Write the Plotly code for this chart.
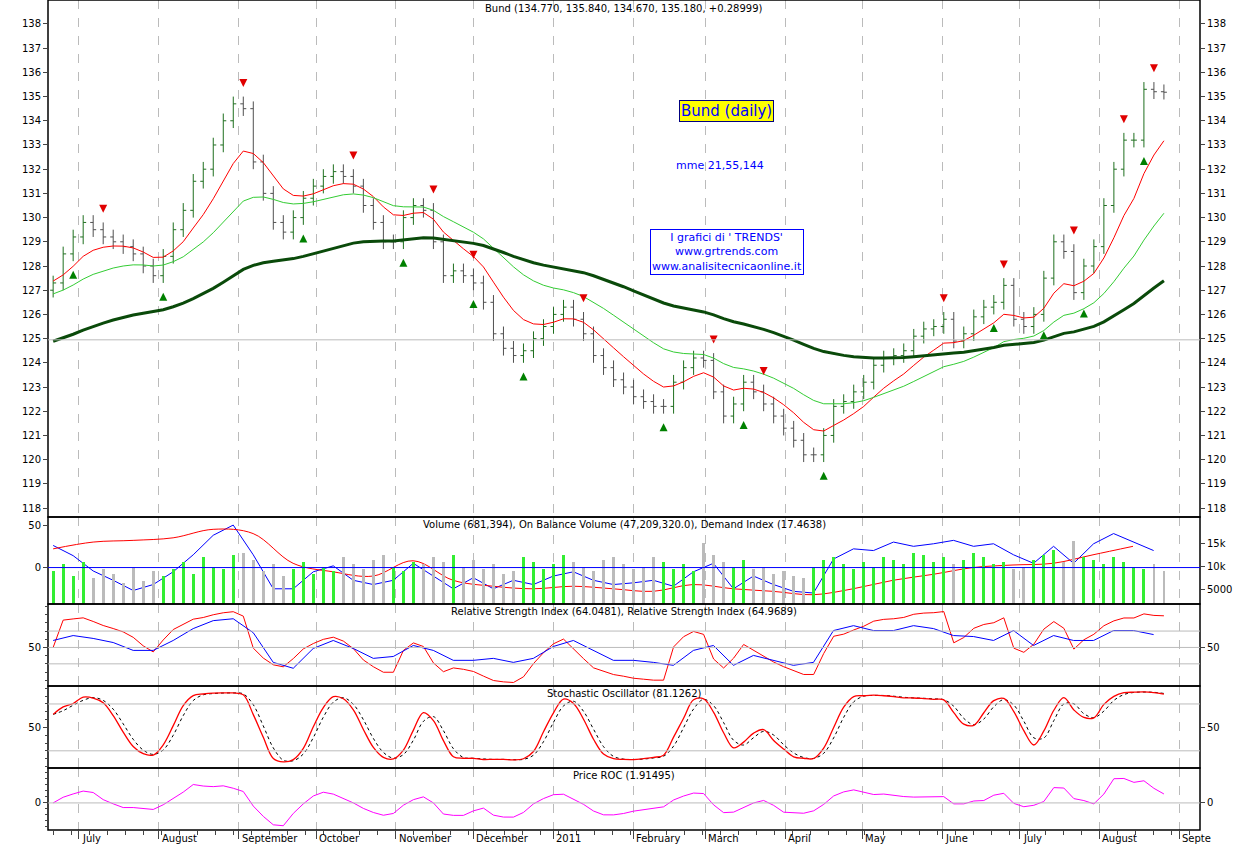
import plotly.graph_objects as go
import pandas as pd
import numpy as np

start_date = "2010-06-21"
end_date = "2011-08-26"
closes = [127.3,128.5,129.2,129.8,129.5,129.2,129.0,128.8,128.5,128.0,127.6,128.4,129.5,130.3,131.5,132.0,133.0,134.0,134.7,134.5,
          132.3,131.0,129.8,129.4,130.0,130.8,131.3,131.7,131.9,131.7,131.3,130.5,129.8,129.0,129.0,130.0,130.5,130.3,129.0,127.6,
          127.8,127.6,127.3,126.5,125.2,124.6,124.3,124.5,125.0,125.5,126.0,126.3,125.8,125.2,124.3,123.8,123.3,123.0,122.6,122.4,
          122.2,122.2,123.2,123.8,124.2,124.1,122.8,121.8,122.3,123.2,122.8,122.3,121.8,121.3,120.8,120.2,120.2,121.0,122.2,122.4,
          122.8,123.2,123.9,124.2,124.3,124.5,125.1,125.4,125.5,125.8,124.9,125.2,125.9,126.3,126.5,127.2,125.8,125.5,126.0,127.5,
          129.0,128.6,126.9,128.0,128.8,130.5,132.0,133.2,133.2,135.3,135.2,135.18]
volumes = [9000,10500,8000,11000,7500,9500,8500,6500,10000,7000,9000,8000,9500,11000,8500,12000,10000,9500,12500,
           13000,11500,9000,10500,8000,9500,11000,8500,10000,9000,12000,10500,9500,11500,12500,10000,9000,11000,10500,12000,
           11000,12500,10000,11500,9500,10500,8500,9000,12000,11000,9500,10500,12500,11000,10000,9000,11500,12000,10500,9500,
           10000,12000,11000,9500,10500,9000,15000,12500,11000,10000,11500,9500,10000,8500,9000,8000,7500,10000,11500,12000,
           10500,9500,11000,10000,12000,11500,10500,13000,12500,11000,12000,10500,11500,13000,12000,10500,11000,9500,10000,11500,
           12500,13500,11000,15500,12000,11500,10500,12000,11000,10000,9500,10500,9000]
down_arrows = [5,19,30,38,42,53,66,71,89,95,102,107,110]
up_arrows = [2,11,25,35,42,47,61,69,77,94,99,103,109]
ema_spans = [7.8, 20, 53]
ema_seeds = [127.4, 126.8, 124.8]

obv_end = "2011-08-22"
obv_line = [26,14,-4,-15,-27,-20,-5,15,38,50,15,-25,-25,-5,2,-15,-20,-15,5,-10,-25,-12,-25,-15,-20,-10,-5,-15,-20,-18,
            -15,-22,-5,5,-25,-10,-20,-28,-30,10,22,20,30,25,28,32,25,28,15,5,25,5,28,40,30,20]
demand_end = "2011-08-14"
demand_line = [22,30,32,35,45,40,5,-5,-10,8,-15,-22,-25,-22,-25,-28,-20,-25,-28,-32,-25,-15,-8,0,3,5,15,25]
rsi_slow = [58.5,64.5,61,56,46.4,46.4,58.5,73,82.7,85,68,31.8,24.6,48.8,58.5,48.8,36.7,39,52.4,46.4,34.3,34.3,36.7,31.8,
            36.7,51.2,58.5,46.4,34.3,34.3,31.8,28.2,46.4,52.4,28.2,40.3,34.3,28.2,31.8,70.6,76.6,70.6,70.6,76.6,73,64.5,
            63.3,58.5,70.6,52.4,64.5,58.5,58.5,70.6,70.6,65.7]
month_dates = pd.date_range("2010-07-01", "2011-09-01", freq="MS")
month_labels = ["July","August","September","October","November","December","2011","February","March","April","May","June","July","August","Septe"]

n = len(closes)
dates = pd.date_range(start_date, end_date, periods=n)
opens = [closes[0] - 0.3] + closes[:-1]
pad = 0.3
highs = [max(o, c) + pad for o, c in zip(opens, closes)]
lows = [min(o, c) - pad for o, c in zip(opens, closes)]

def ema(vals, span, seed):
    a = 2 / (span + 1); e = seed; out = []
    for v in vals:
        e = e + a * (v - e); out.append(e)
    return out

def rsi(c, p):
    out = [50]; ag = al = None
    for i in range(1, len(c)):
        d = c[i] - c[i-1]; g = max(d, 0); l = max(-d, 0)
        if ag is None: ag, al = g + 0.3, l + 0.3
        else: ag = (ag*(p-1)+g)/p; al = (al*(p-1)+l)/p
        out.append(100 - 100/(1 + ag/al))
    return out

def sma(v, p):
    return [np.mean(v[max(0, i-p+1):i+1]) for i in range(len(v))]

k = []
for i in range(n):
    hh = max(highs[max(0, i-4):i+1]); ll = min(lows[max(0, i-4):i+1])
    k.append(100 * (closes[i] - ll) / (hh - ll))
stoch = sma(k, 3)
stoch_sig = sma(stoch, 2)
roc = [100 * (closes[i] / closes[max(0, i-4)] - 1) for i in range(n)]
rsi_fast = rsi(closes, 5)

fig = go.Figure()
fig.add_trace(go.Ohlc(x=dates, open=opens, high=highs, low=lows, close=closes, xaxis="x", yaxis="y",
                      increasing_line_color="#1f6f1f", decreasing_line_color="#505050", line_width=1, tickwidth=0.3))
for span, seed, col, w in zip(ema_spans, ema_seeds, ["#ff0000", "#33cc33", "#0a4a0a"], [1, 1, 3]):
    fig.add_trace(go.Scatter(x=dates, y=ema(closes, span, seed), mode="lines", line=dict(color=col, width=w), yaxis="y"))
fig.add_trace(go.Scatter(x=[dates[i] for i in down_arrows], y=[highs[i] + 0.4 for i in down_arrows], mode="markers",
                         marker=dict(symbol="arrow-down", size=8, color="#e00000"), yaxis="y"))
fig.add_trace(go.Scatter(x=[dates[i] for i in up_arrows], y=[lows[i] - 0.4 for i in up_arrows], mode="markers",
                         marker=dict(symbol="arrow-up", size=8, color="#008000"), yaxis="y"))
fig.add_trace(go.Scatter(x=[dates[0]], y=[128], mode="markers", marker=dict(opacity=0), yaxis="y2", hoverinfo="skip"))

vcol = ["#33ee33" if closes[i] >= opens[i] else "#bbbbbb" for i in range(n)]
fig.add_trace(go.Bar(x=dates, y=[v - 1960 for v in volumes], base=1960, marker_color=vcol, marker_line_width=0, width=1.1*86400000, yaxis="y4"))
fig.add_trace(go.Scatter(x=pd.date_range(start_date, obv_end, periods=len(obv_line)), y=obv_line, mode="lines", line=dict(color="#0000ff", width=1), yaxis="y3"))
fig.add_trace(go.Scatter(x=pd.date_range(start_date, demand_end, periods=len(demand_line)), y=demand_line, mode="lines", line=dict(color="#ff0000", width=1, shape="spline"), yaxis="y3"))

fig.add_trace(go.Scatter(x=dates, y=rsi_fast, mode="lines", line=dict(color="#ff0000", width=1), yaxis="y5"))
fig.add_trace(go.Scatter(x=pd.date_range(start_date, obv_end, periods=len(rsi_slow)), y=rsi_slow, mode="lines", line=dict(color="#0000ff", width=1), yaxis="y5"))
fig.add_trace(go.Scatter(x=[dates[0]], y=[50], mode="markers", marker=dict(opacity=0), yaxis="y6", hoverinfo="skip"))

fig.add_trace(go.Scatter(x=dates, y=stoch_sig, mode="lines", line=dict(color="#000000", width=1, dash="dot", shape="spline"), yaxis="y7"))
fig.add_trace(go.Scatter(x=dates, y=stoch, mode="lines", line=dict(color="#ff0000", width=1.3, shape="spline"), yaxis="y7"))
fig.add_trace(go.Scatter(x=[dates[0]], y=[50], mode="markers", marker=dict(opacity=0), yaxis="y8", hoverinfo="skip"))

fig.add_trace(go.Scatter(x=dates, y=roc, mode="lines", line=dict(color="#ff00ff", width=1), yaxis="y9"))
fig.add_trace(go.Scatter(x=[dates[0]], y=[0], mode="markers", marker=dict(opacity=0), yaxis="y10", hoverinfo="skip"))

doms = {"main": [0.3771, 1], "vol": [0.2723, 0.3771], "rsi": [0.1735, 0.2723], "sto": [0.0747, 0.1735], "roc": [0, 0.0747]}
font = dict(family="DejaVu Sans", size=10, color="black")
def yax(dom, rng, tv, side="left", over=None, dt=None):
    d = dict(domain=dom, range=rng, tickvals=tv, side=side, anchor="x", showgrid=False, zeroline=False, automargin=False,
             ticks="outside", ticklen=4, tickfont=font, fixedrange=True, minor=dict(ticks="outside", ticklen=2, dtick=dt) if dt else None)
    if over:
        d.pop("domain"); d["overlaying"] = over
    return d
pr = [117.63, 138.99]
ptv = list(range(118, 139))
fig.update_layout(
    width=1250, height=847, margin=dict(l=48, r=50, t=0, b=17, autoexpand=False), paper_bgcolor="white", plot_bgcolor="white",
    showlegend=False, bargap=0,
    xaxis=dict(domain=[0, 1], anchor="y9", range=["2010-06-19", "2011-09-09"], showticklabels=False, tickvals=month_dates,
               ticks="outside", ticklen=8, showgrid=True, gridcolor="#bbbbbb", griddash="dash", rangeslider=dict(visible=False),
               automargin=False,
               minor=dict(ticks="outside", ticklen=4, dtick=7*86400000, tick0="2010-06-21", showgrid=False)),
    yaxis=yax(doms["main"], pr, ptv), yaxis2=yax(None, pr, ptv, "right", "y"),
    yaxis3=yax(doms["vol"], [-42.9, 59.5], [0, 50]), yaxis4=yax(None, [1960, 20650], [5000, 10000, 15000], "right", "y3"),
    yaxis5=yax(doms["rsi"], [3, 103], [50], dt=10), yaxis6=yax(None, [3, 103], [50], "right", "y5"),
    yaxis7=yax(doms["sto"], [-2, 103], [50], dt=10), yaxis8=yax(None, [-2, 103], [50], "right", "y7"),
    yaxis9=yax(doms["roc"], [-4.5, 5.8], [0], dt=1), yaxis10=yax(None, [-4.5, 5.8], [0], "right", "y9"),
)
shapes = []
for d in doms.values():
    shapes.append(dict(type="rect", xref="paper", yref="paper", x0=0, x1=1, y0=d[0], y1=d[1], line=dict(color="black", width=1.5)))
for yv in [70, 50, 30]:
    shapes.append(dict(type="line", xref="paper", x0=0, x1=1, yref="y5", y0=yv, y1=yv, line=dict(color="#bbbbbb", width=1)))
for yv in [80, 20]:
    shapes.append(dict(type="line", xref="paper", x0=0, x1=1, yref="y7", y0=yv, y1=yv, line=dict(color="#bbbbbb", width=1)))
shapes.append(dict(type="line", xref="paper", x0=0, x1=1, yref="y9", y0=0, y1=0, line=dict(color="#bbbbbb", width=1)))
shapes.append(dict(type="line", xref="paper", x0=0, x1=1, yref="y", y0=124.95, y1=124.95, line=dict(color="#bbbbbb", width=1)))
shapes.append(dict(type="line", xref="paper", x0=0, x1=1, yref="y3", y0=0, y1=0, line=dict(color="#0000ff", width=1)))
fig.update_layout(shapes=shapes)

ann = []
for dt_, lab in zip(month_dates, month_labels):
    ann.append(dict(x=dt_, y=0, xref="x", yref="paper", text=lab, showarrow=False, xanchor="left", yanchor="top", xshift=1, yshift=-1, font=font))
def ptitle(text, y):
    ann.append(dict(x=0.5, y=y, xref="paper", yref="paper", text=text, showarrow=False, yanchor="top", font=font))
ptitle("Bund (134.770, 135.840, 134.670, 135.180, +0.28999)", 0.999)
ptitle("Volume (681,394), On Balance Volume (47,209,320.0), Demand Index (17.4638)", 0.3766)
ptitle("Relative Strength Index (64.0481), Relative Strength Index (64.9689)", 0.2718)
ptitle("Stochastic Oscillator (81.1262)", 0.173)
ptitle("Price ROC (1.91495)", 0.0742)
ann.append(dict(x=0.589, y=0.8795, xref="paper", yref="paper", text="Bund (daily)", showarrow=False, bgcolor="#ffff00",
                bordercolor="#000080", borderwidth=1, borderpad=1, font=dict(family="DejaVu Sans", size=15, color="#0000ff")))
ann.append(dict(x=0.583, y=0.811, xref="paper", yref="paper", text="mme 21,55,144", showarrow=False, font=dict(family="DejaVu Sans", size=11, color="#0000ff")))
ann.append(dict(x=0.589, y=0.724, xref="paper", yref="paper", text="I grafici di ' TRENDS'<br>www.grtrends.com<br>www.analisitecnicaonline.it",
                showarrow=False, bgcolor="white", bordercolor="#0000ff", borderwidth=1, borderpad=1,
                font=dict(family="DejaVu Sans", size=11, color="#0000ff")))
fig.update_layout(annotations=ann)
fig.write_html("out.html", config={"displayModeBar": False},
               post_script="document.body.style.margin='0';document.body.style.overflow='hidden';")
